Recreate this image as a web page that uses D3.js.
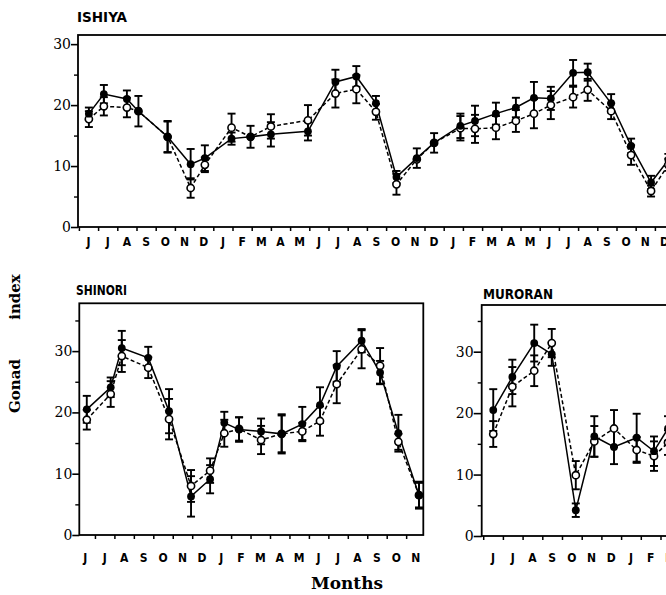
<!DOCTYPE html>
<html><head><meta charset="utf-8">
<script src="https://cdn.jsdelivr.net/npm/d3@7"></script>
<style>body{margin:0;background:#fff} svg{display:block}</style>
</head><body><svg id="c" width="666" height="595"></svg>
<script>
// ---- data ----
const monthLetters = ["J","J","A","S","O","N","D","J","F","M","A","M"];
const yMajorTicks = [0, 10, 20, 30];
const yMinorTicks = [5, 15, 25, 35];
const panelTitles = ["ISHIYA", "SHINORI", "MURORAN"];
const axisTitleY = ["Gonad", "index"];
const axisTitleX = "Months";

// sampling time in months since start of first June
const ishiyaMonth = [0.52,1.30,2.50,3.10,4.62,5.82,6.56,7.95,8.94,10.0,11.93,13.36,14.45,15.47,16.54,17.6,18.5,19.87,20.63,21.72,22.76,23.7,24.58,25.74,26.5,27.72,28.76,29.8,30.7];
const ishiyaSolid   = [18.6,21.8,21.0,19.0,14.8,10.3,11.3,14.5,14.8,15.2,15.7,23.8,24.7,20.3,8.2,11.3,13.8,16.6,17.4,18.6,19.6,21.2,21.1,25.3,25.4,20.3,13.3,7.3,11.0];
const ishiyaSolidSE = [1.0,1.5,1.4,2.5,2.6,2.5,2.1,1.0,1.8,2.0,1.5,2.0,1.7,1.2,1.0,1.6,1.6,2.0,2.5,1.8,1.6,2.6,1.9,2.1,1.4,1.5,1.2,1.1,1.0];
const ishiyaOpen    = [17.7,19.8,19.6,19.0,14.8,6.4,10.2,16.3,14.8,16.5,17.5,21.9,22.6,18.9,7.0,11.1,13.8,16.2,16.1,16.3,17.4,18.6,20.0,21.3,22.5,19.0,11.8,5.9,10.2];
const ishiyaOpenSE  = [1.3,1.5,1.6,0,2.5,1.6,1.2,2.3,0,2.0,2.5,2.3,2.3,1.3,1.7,0,0,2.0,2.3,1.9,1.8,2.4,2.3,1.7,1.8,1.3,1.6,0.9,1.0];

const shinoriMonth = [0.58,1.81,2.38,3.74,4.81,5.94,6.92,7.65,8.41,9.54,10.6,11.66,12.57,13.43,14.71,15.66,16.6,17.66];
const shinoriSolid   = [20.5,24.1,30.5,28.9,20.2,6.3,9.1,18.3,17.2,16.9,16.5,18.1,21.2,27.5,31.7,26.5,16.6,6.5];
const shinoriSolidSE = [2.2,1.6,2.8,1.8,3.6,3.3,2.3,1.8,2.0,2.1,3.2,2.8,2.9,2.5,1.9,1.9,3.0,2.2];
const shinoriOpen    = [18.8,23.0,29.2,27.3,18.9,8.0,10.5,16.6,17.3,15.5,16.5,16.9,18.6,24.6,30.3,27.6,15.2,6.5];
const shinoriOpenSE  = [1.6,2.1,2.6,1.7,3.3,2.6,2.0,2.2,1.9,2.3,3.0,1.4,2.4,3.1,3.1,2.9,1.3,2.0];

const muroranMonth = [0.51,1.48,2.59,3.48,4.7,5.64,6.64,7.79,8.67,9.38];
const muroranSolid   = [20.5,25.9,31.4,29.6,4.2,16.2,14.5,16.0,13.8,17.5];
const muroranSolidSE = [3.4,2.8,3.0,1.9,1.1,3.3,2.8,3.9,2.4,2.0];
const muroranOpen    = [16.6,24.3,26.9,31.4,9.9,15.4,17.5,14.0,13.0,15.2];
const muroranOpenSE  = [2.1,3.2,2.5,2.3,2.3,2.5,3.0,2.1,2.4,2.0];

// ---- layout ----
const layout = [
  {title:panelTitles[0], month:ishiyaMonth, solid:ishiyaSolid, solidSE:ishiyaSolidSE, open:ishiyaOpen, openSE:ishiyaOpenSE,
   left:78, right:760, top:35, bottom:227, x0:78.9, step:19.2, yMax:31.5, nLabels:31,
   titleX:77, titleY:22, titleW:50, labelY:246, tick:7},
  {title:panelTitles[1], month:shinoriMonth, solid:shinoriSolid, solidSE:shinoriSolidSE, open:shinoriOpen, openSE:shinoriOpenSE,
   left:79.3, right:423.3, top:303.3, bottom:535, x0:75.5, step:19.45, yMax:37.8, nLabels:18,
   titleX:76, titleY:295, titleW:51, labelY:562, tick:7},
  {title:panelTitles[2], month:muroranMonth, solid:muroranSolid, solidSE:muroranSolidSE, open:muroranOpen, openSE:muroranOpenSE,
   left:481.7, right:760, top:305, bottom:536, x0:483.2, step:19.7, yMax:37.6, nLabels:12,
   titleX:483, titleY:299, titleW:70, labelY:562, tick:8}
];

const svg = d3.select("#c");
const serif = "'DejaVu Serif', 'Liberation Serif', serif";
const cond = "'DejaVu Sans Condensed', 'DejaVu Sans', sans-serif";

layout.forEach(p => {
  const g = svg.append("g");
  const x = d3.scaleLinear().domain([0, 40]).range([p.x0, p.x0 + 40 * p.step]);
  const y = d3.scaleLinear().domain([0, p.yMax]).range([p.bottom, p.top]);

  // frame
  g.append("rect").attr("x", p.left).attr("y", p.top)
    .attr("width", p.right - p.left).attr("height", p.bottom - p.top)
    .attr("fill", "none").attr("stroke", "#000").attr("stroke-width", 1.8);

  // y axis major
  const ya = g.append("g").attr("transform", `translate(${p.left},0)`)
    .call(d3.axisLeft(y).tickValues(yMajorTicks.filter(v => v <= p.yMax)).tickSize(p.tick).tickPadding(0));
  ya.select(".domain").remove();
  ya.selectAll("line").attr("stroke-width", 1.6);
  ya.selectAll("text").attr("font-family", serif).attr("font-size", 14).attr("fill", "#000");
  const ym = g.append("g").attr("transform", `translate(${p.left},0)`)
    .call(d3.axisLeft(y).tickValues(yMinorTicks.filter(v => v <= p.yMax)).tickSize(4).tickFormat(""));
  ym.select(".domain").remove();
  ym.selectAll("line").attr("stroke-width", 1.4);

  // x axis ticks at month boundaries
  const kMin = Math.ceil(x.invert(p.left) - 0.05), kMax = Math.floor(x.invert(p.right));
  const ks = d3.range(Math.max(kMin, 0), kMax + 1);
  const xa = g.append("g").attr("transform", `translate(0,${p.bottom})`)
    .call(d3.axisBottom(x).tickValues(ks).tickSize(4).tickFormat(""));
  xa.select(".domain").remove();
  xa.selectAll("line").attr("stroke-width", 1.5);

  // month letters
  g.selectAll("text.mon").data(d3.range(p.nLabels)).join("text")
    .attr("class", "mon")
    .attr("x", k => x(k + 0.5)).attr("y", p.labelY)
    .attr("text-anchor", "middle").attr("font-family", cond).attr("font-weight", "bold")
    .attr("font-size", 12).text(k => monthLetters[k % 12]);

  // title
  g.append("text").attr("x", p.titleX).attr("y", p.titleY)
    .attr("font-family", cond).attr("font-weight", "bold").attr("font-size", 14)
    .attr("textLength", p.titleW).attr("lengthAdjust", "spacingAndGlyphs").text(p.title);

  const rows = p.month.map((m, i) => ({m, s: p.solid[i], se: p.solidSE[i], o: p.open[i], oe: p.openSE[i]}));

  // lines
  const lineS = d3.line().x(d => x(d.m)).y(d => y(d.s));
  const lineO = d3.line().x(d => x(d.m)).y(d => y(d.o));
  g.append("path").attr("d", lineO(rows.filter(d => d.o != null)))
    .attr("fill", "none").attr("stroke", "#000").attr("stroke-width", 1.5).attr("stroke-dasharray", "4,2.5");
  g.append("path").attr("d", lineS(rows))
    .attr("fill", "none").attr("stroke", "#000").attr("stroke-width", 1.5);

  // error bars
  const bars = [];
  rows.forEach(d => {
    if (d.se > 0) bars.push({m: d.m, lo: d.s - d.se, hi: d.s + d.se});
    if (d.o != null && d.oe > 0) bars.push({m: d.m, lo: d.o - d.oe, hi: d.o + d.oe});
  });
  const eb = g.append("g").attr("stroke", "#000").attr("stroke-width", 1.9);
  bars.forEach(b => {
    const cx = x(b.m);
    eb.append("line").attr("x1", cx).attr("x2", cx).attr("y1", y(b.lo)).attr("y2", y(b.hi));
    eb.append("line").attr("x1", cx - 4).attr("x2", cx + 4).attr("y1", y(b.lo)).attr("y2", y(b.lo));
    eb.append("line").attr("x1", cx - 4).attr("x2", cx + 4).attr("y1", y(b.hi)).attr("y2", y(b.hi));
  });

  // markers
  g.selectAll("circle.o").data(rows.filter(d => d.o != null)).join("circle")
    .attr("class", "o").attr("cx", d => x(d.m)).attr("cy", d => y(d.o)).attr("r", 3.6)
    .attr("fill", "#fff").attr("stroke", "#000").attr("stroke-width", 1.6);
  g.selectAll("circle.s").data(rows).join("circle")
    .attr("class", "s").attr("cx", d => x(d.m)).attr("cy", d => y(d.s)).attr("r", 3.9)
    .attr("fill", "#000");
});

// axis titles
svg.append("text").attr("transform", "translate(20,386) rotate(-90)")
  .attr("text-anchor", "middle").attr("font-family", serif).attr("font-weight", "bold")
  .attr("font-size", 15).text(axisTitleY[0]);
svg.append("text").attr("transform", "translate(20,297) rotate(-90)")
  .attr("text-anchor", "middle").attr("font-family", serif).attr("font-weight", "bold")
  .attr("font-size", 15).text(axisTitleY[1]);
svg.append("text").attr("x", 347).attr("y", 589)
  .attr("text-anchor", "middle").attr("font-family", serif).attr("font-weight", "bold")
  .attr("font-size", 16).attr("textLength", 72).attr("lengthAdjust", "spacingAndGlyphs").text(axisTitleX);
</script></body></html>
